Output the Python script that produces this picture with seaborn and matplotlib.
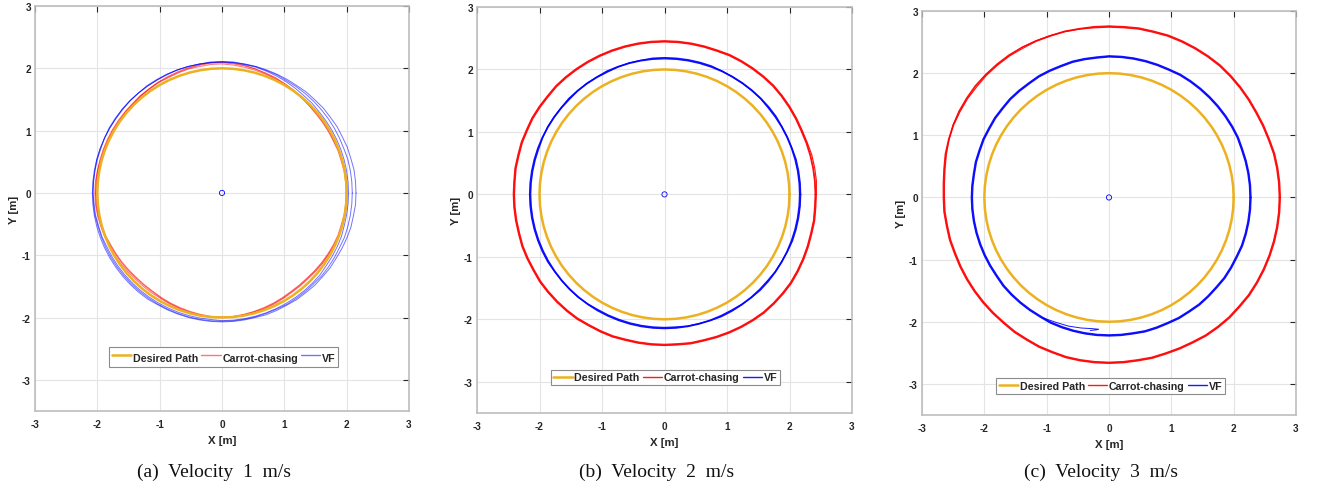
import numpy as np
import pandas as pd
import matplotlib
matplotlib.use("Agg")
import matplotlib.pyplot as plt
import seaborn as sns

# ---------------- data ----------------
ANGLES_DEG = [0, 5, 10, 15, 20, 25, 30, 35, 40, 45, 50, 55,
              60, 65, 70, 75, 80, 85, 90, 95, 100, 105, 110, 115,
              120, 125, 130, 135, 140, 145, 150, 155, 160, 165, 170, 175,
              180, 185, 190, 195, 200, 205, 210, 215, 220, 225, 230, 235,
              240, 245, 250, 255, 260, 265, 270, 275, 280, 285, 290, 295,
              300, 305, 310, 315, 320, 325, 330, 335, 340, 345, 350, 355]
DESIRED_RADIUS = 2.0
CENTER_X = [0.0]
CENTER_Y = [0.0]

CAPTIONS = ["(a)  Velocity  1  m/s", "(b)  Velocity  2  m/s", "(c)  Velocity  3  m/s"]
LEGEND_LABELS = ["Desired Path", "Carrot-chasing", "VF"]
TICKS = [-3, -2, -1, 0, 1, 2, 3]

# radius of each recorded lap at ANGLES_DEG, read from the picture
# ---- panel (a): velocity 1 m/s ----
CC_V1_LAP1 = [2.00, 2.00, 2.00, 1.99, 1.99, 1.98, 1.98, 1.98, 1.98, 1.98, 1.99, 2.00,
              2.01, 2.02, 2.03, 2.04, 2.05, 2.06, 2.07, 2.07, 2.06, 2.06, 2.05, 2.04,
              2.04, 2.03, 2.03, 2.02, 2.02, 2.02, 2.02, 2.02, 2.02, 2.02, 2.03, 2.03,
              2.03, 2.03, 2.02, 2.01, 2.00, 1.98, 1.97, 1.96, 1.95, 1.94, 1.94, 1.94,
              1.95, 1.96, 1.97, 1.98, 1.99, 2.00, 2.00, 2.00, 1.99, 1.98, 1.97, 1.96,
              1.95, 1.94, 1.94, 1.94, 1.95, 1.96, 1.97, 1.98, 1.99, 1.99, 2.00, 2.00]
CC_V1_LAP2 = [2.01, 2.01, 2.01, 2.00, 2.00, 1.99, 1.99, 1.99, 1.99, 1.99, 2.00, 2.01,
              2.02, 2.03, 2.04, 2.06, 2.07, 2.08, 2.09, 2.09, 2.08, 2.07, 2.06, 2.05,
              2.05, 2.04, 2.04, 2.03, 2.03, 2.03, 2.03, 2.03, 2.03, 2.03, 2.03, 2.04,
              2.04, 2.04, 2.03, 2.02, 2.01, 1.99, 1.99, 1.98, 1.97, 1.96, 1.96, 1.96,
              1.96, 1.97, 1.98, 1.99, 1.99, 2.00, 2.00, 2.00, 1.99, 1.98, 1.98, 1.97,
              1.96, 1.95, 1.95, 1.95, 1.96, 1.97, 1.98, 1.99, 2.00, 2.00, 2.01, 2.01]
CC_V1_LAP3 = [1.99, 1.99, 1.99, 1.98, 1.98, 1.97, 1.97, 1.97, 1.97, 1.98, 1.99, 2.01,
              2.02, 2.04, 2.05, 2.06, 2.08, 2.09, 2.10, 2.10, 2.09, 2.08, 2.07, 2.06,
              2.05, 2.04, 2.03, 2.02, 2.02, 2.01, 2.01, 2.01, 2.01, 2.01, 2.02, 2.02,
              2.02, 2.02, 2.01, 2.00, 1.99, 1.97, 1.96, 1.95, 1.94, 1.93, 1.93, 1.93,
              1.94, 1.95, 1.96, 1.97, 1.98, 1.99, 1.99, 1.99, 1.98, 1.97, 1.96, 1.95,
              1.94, 1.93, 1.93, 1.93, 1.94, 1.95, 1.96, 1.97, 1.98, 1.98, 1.99, 1.99]
VF_V1_LAP1 = [2.03, 2.03, 2.03, 2.03, 2.03, 2.03, 2.03, 2.03, 2.03, 2.04, 2.04, 2.05,
              2.06, 2.07, 2.08, 2.09, 2.09, 2.10, 2.10, 2.10, 2.10, 2.10, 2.10, 2.09,
              2.09, 2.09, 2.09, 2.09, 2.08, 2.08, 2.08, 2.08, 2.07, 2.07, 2.07, 2.07,
              2.07, 2.06, 2.06, 2.05, 2.05, 2.04, 2.04, 2.04, 2.04, 2.04, 2.04, 2.04,
              2.04, 2.04, 2.04, 2.04, 2.04, 2.04, 2.05, 2.05, 2.05, 2.05, 2.05, 2.05,
              2.05, 2.05, 2.05, 2.05, 2.05, 2.04, 2.04, 2.04, 2.04, 2.03, 2.03, 2.03]
VF_V1_LAP2 = [2.09, 2.09, 2.09, 2.09, 2.08, 2.08, 2.08, 2.08, 2.08, 2.08, 2.08, 2.08,
              2.08, 2.09, 2.09, 2.10, 2.10, 2.10, 2.10, 2.10, 2.10, 2.10, 2.10, 2.10,
              2.09, 2.09, 2.09, 2.09, 2.09, 2.08, 2.08, 2.08, 2.08, 2.08, 2.07, 2.07,
              2.07, 2.07, 2.07, 2.06, 2.06, 2.06, 2.06, 2.06, 2.06, 2.06, 2.06, 2.06,
              2.06, 2.06, 2.06, 2.06, 2.06, 2.06, 2.06, 2.06, 2.06, 2.06, 2.06, 2.06,
              2.07, 2.07, 2.07, 2.07, 2.08, 2.08, 2.08, 2.08, 2.09, 2.09, 2.09, 2.09]
VF_V1_LAP3 = [2.15, 2.15, 2.15, 2.14, 2.14, 2.13, 2.13, 2.12, 2.12, 2.11, 2.11, 2.10,
              2.10, 2.10, 2.10, 2.10, 2.10, 2.11, 2.11, 2.11, 2.10, 2.10, 2.10, 2.10,
              2.10, 2.10, 2.09, 2.09, 2.09, 2.09, 2.09, 2.08, 2.08, 2.08, 2.08, 2.08,
              2.08, 2.08, 2.08, 2.08, 2.08, 2.08, 2.08, 2.08, 2.08, 2.08, 2.08, 2.08,
              2.07, 2.07, 2.07, 2.07, 2.07, 2.07, 2.07, 2.07, 2.07, 2.07, 2.08, 2.08,
              2.08, 2.09, 2.09, 2.10, 2.10, 2.11, 2.11, 2.12, 2.13, 2.14, 2.14, 2.15]

# ---- panel (b): velocity 2 m/s ----
CC_V2_LAP1 = [2.42, 2.42, 2.42, 2.42, 2.42, 2.42, 2.43, 2.44, 2.45, 2.46, 2.46, 2.46,
              2.46, 2.46, 2.45, 2.45, 2.45, 2.45, 2.45, 2.45, 2.45, 2.45, 2.45, 2.45,
              2.45, 2.45, 2.45, 2.45, 2.44, 2.44, 2.44, 2.43, 2.43, 2.42, 2.42, 2.41,
              2.41, 2.41, 2.41, 2.41, 2.42, 2.42, 2.42, 2.43, 2.43, 2.43, 2.43, 2.43,
              2.42, 2.42, 2.42, 2.41, 2.41, 2.41, 2.41, 2.41, 2.42, 2.42, 2.43, 2.44,
              2.45, 2.46, 2.47, 2.47, 2.47, 2.47, 2.46, 2.45, 2.44, 2.43, 2.43, 2.42]
CC_V2_LAP2 = [2.43, 2.44, 2.44, 2.44, 2.43, 2.43, 2.44, 2.45, 2.46, 2.47, 2.47, 2.47,
              2.47, 2.47, 2.46, 2.46, 2.46, 2.46, 2.46, 2.46, 2.46, 2.46, 2.46, 2.46,
              2.46, 2.46, 2.46, 2.46, 2.45, 2.45, 2.45, 2.44, 2.44, 2.43, 2.43, 2.42,
              2.42, 2.42, 2.42, 2.42, 2.43, 2.43, 2.43, 2.44, 2.44, 2.44, 2.44, 2.44,
              2.43, 2.43, 2.43, 2.42, 2.42, 2.42, 2.42, 2.42, 2.43, 2.43, 2.44, 2.45,
              2.46, 2.47, 2.48, 2.48, 2.48, 2.48, 2.47, 2.46, 2.45, 2.44, 2.44, 2.43]
CC_V2_LAP3 = [2.41, 2.41, 2.41, 2.41, 2.41, 2.41, 2.42, 2.43, 2.44, 2.45, 2.45, 2.45,
              2.45, 2.45, 2.44, 2.44, 2.44, 2.44, 2.44, 2.44, 2.44, 2.44, 2.44, 2.44,
              2.44, 2.44, 2.44, 2.44, 2.43, 2.43, 2.43, 2.42, 2.42, 2.41, 2.41, 2.40,
              2.40, 2.40, 2.40, 2.40, 2.41, 2.41, 2.41, 2.42, 2.42, 2.42, 2.42, 2.42,
              2.41, 2.41, 2.41, 2.40, 2.40, 2.40, 2.40, 2.40, 2.41, 2.41, 2.42, 2.43,
              2.44, 2.45, 2.46, 2.46, 2.46, 2.46, 2.45, 2.44, 2.43, 2.42, 2.42, 2.41]
VF_V2_LAP1 = [2.17, 2.17, 2.17, 2.17, 2.17, 2.17, 2.17, 2.17, 2.17, 2.17, 2.17, 2.17,
              2.17, 2.18, 2.18, 2.18, 2.18, 2.18, 2.18, 2.18, 2.18, 2.18, 2.17, 2.17,
              2.17, 2.17, 2.16, 2.16, 2.16, 2.16, 2.16, 2.15, 2.15, 2.15, 2.15, 2.15,
              2.15, 2.15, 2.15, 2.15, 2.15, 2.15, 2.15, 2.15, 2.15, 2.15, 2.15, 2.14,
              2.14, 2.14, 2.14, 2.14, 2.14, 2.14, 2.14, 2.14, 2.14, 2.14, 2.15, 2.15,
              2.15, 2.15, 2.16, 2.16, 2.16, 2.16, 2.16, 2.17, 2.17, 2.17, 2.17, 2.17]
VF_V2_LAP2 = [2.18, 2.18, 2.18, 2.18, 2.17, 2.17, 2.17, 2.18, 2.18, 2.18, 2.18, 2.18,
              2.18, 2.18, 2.19, 2.19, 2.19, 2.19, 2.19, 2.19, 2.18, 2.18, 2.18, 2.18,
              2.17, 2.17, 2.17, 2.17, 2.16, 2.16, 2.16, 2.16, 2.16, 2.16, 2.16, 2.16,
              2.16, 2.16, 2.16, 2.16, 2.16, 2.16, 2.16, 2.15, 2.15, 2.15, 2.15, 2.15,
              2.15, 2.15, 2.15, 2.15, 2.15, 2.15, 2.15, 2.15, 2.15, 2.15, 2.15, 2.16,
              2.16, 2.16, 2.16, 2.17, 2.17, 2.17, 2.17, 2.17, 2.18, 2.18, 2.18, 2.18]
VF_V2_LAP3 = [2.16, 2.16, 2.16, 2.16, 2.16, 2.16, 2.16, 2.16, 2.16, 2.17, 2.17, 2.17,
              2.17, 2.17, 2.17, 2.17, 2.17, 2.17, 2.17, 2.17, 2.17, 2.17, 2.17, 2.16,
              2.16, 2.16, 2.16, 2.15, 2.15, 2.15, 2.15, 2.15, 2.14, 2.14, 2.14, 2.14,
              2.14, 2.14, 2.14, 2.14, 2.14, 2.14, 2.14, 2.14, 2.14, 2.14, 2.14, 2.14,
              2.13, 2.13, 2.13, 2.13, 2.13, 2.13, 2.13, 2.13, 2.14, 2.14, 2.14, 2.14,
              2.14, 2.15, 2.15, 2.15, 2.15, 2.16, 2.16, 2.16, 2.16, 2.16, 2.16, 2.16]

# ---- panel (c): velocity 3 m/s ----
CC_V3_LAP1 = [2.74, 2.74, 2.74, 2.74, 2.73, 2.73, 2.73, 2.74, 2.75, 2.76, 2.77, 2.77,
              2.77, 2.77, 2.77, 2.76, 2.76, 2.75, 2.75, 2.75, 2.75, 2.76, 2.76, 2.77,
              2.77, 2.78, 2.78, 2.78, 2.77, 2.77, 2.76, 2.75, 2.73, 2.71, 2.68, 2.66,
              2.65, 2.65, 2.64, 2.64, 2.63, 2.63, 2.63, 2.63, 2.63, 2.63, 2.63, 2.64,
              2.64, 2.65, 2.65, 2.66, 2.66, 2.66, 2.66, 2.66, 2.66, 2.67, 2.67, 2.68,
              2.69, 2.71, 2.72, 2.73, 2.73, 2.74, 2.74, 2.74, 2.74, 2.74, 2.74, 2.74]
CC_V3_LAP2 = [2.75, 2.75, 2.75, 2.75, 2.74, 2.74, 2.74, 2.75, 2.76, 2.77, 2.78, 2.78,
              2.78, 2.78, 2.78, 2.77, 2.77, 2.76, 2.76, 2.76, 2.76, 2.77, 2.77, 2.78,
              2.79, 2.79, 2.79, 2.79, 2.79, 2.78, 2.77, 2.76, 2.74, 2.72, 2.69, 2.67,
              2.66, 2.66, 2.65, 2.65, 2.64, 2.64, 2.64, 2.64, 2.64, 2.64, 2.64, 2.65,
              2.65, 2.66, 2.66, 2.67, 2.67, 2.67, 2.67, 2.67, 2.67, 2.68, 2.68, 2.69,
              2.70, 2.72, 2.73, 2.74, 2.74, 2.75, 2.75, 2.75, 2.75, 2.75, 2.75, 2.75]
CC_V3_LAP3 = [2.73, 2.73, 2.73, 2.73, 2.72, 2.72, 2.72, 2.73, 2.74, 2.75, 2.76, 2.76,
              2.76, 2.76, 2.76, 2.75, 2.75, 2.74, 2.74, 2.74, 2.75, 2.76, 2.77, 2.78,
              2.79, 2.80, 2.80, 2.80, 2.80, 2.79, 2.78, 2.76, 2.73, 2.70, 2.67, 2.65,
              2.64, 2.64, 2.63, 2.63, 2.62, 2.62, 2.62, 2.62, 2.62, 2.62, 2.62, 2.63,
              2.63, 2.64, 2.64, 2.65, 2.65, 2.65, 2.65, 2.65, 2.65, 2.66, 2.66, 2.67,
              2.68, 2.70, 2.71, 2.72, 2.72, 2.73, 2.73, 2.73, 2.73, 2.73, 2.73, 2.73]
VF_V3_LAP1 = [2.27, 2.27, 2.27, 2.27, 2.27, 2.28, 2.28, 2.28, 2.28, 2.28, 2.28, 2.28,
              2.28, 2.27, 2.27, 2.27, 2.27, 2.27, 2.27, 2.26, 2.26, 2.26, 2.25, 2.25,
              2.25, 2.24, 2.24, 2.24, 2.23, 2.23, 2.22, 2.22, 2.21, 2.21, 2.20, 2.20,
              2.20, 2.20, 2.20, 2.20, 2.20, 2.20, 2.20, 2.20, 2.21, 2.21, 2.21, 2.21,
              2.21, 2.22, 2.22, 2.22, 2.22, 2.22, 2.22, 2.22, 2.22, 2.23, 2.23, 2.23,
              2.24, 2.24, 2.25, 2.25, 2.25, 2.26, 2.26, 2.26, 2.27, 2.27, 2.27, 2.27]
VF_V3_LAP2 = [2.28, 2.28, 2.28, 2.28, 2.28, 2.29, 2.29, 2.29, 2.29, 2.29, 2.29, 2.29,
              2.29, 2.28, 2.28, 2.28, 2.28, 2.28, 2.28, 2.27, 2.27, 2.27, 2.26, 2.26,
              2.26, 2.25, 2.25, 2.25, 2.24, 2.24, 2.23, 2.23, 2.22, 2.22, 2.21, 2.21,
              2.21, 2.21, 2.21, 2.21, 2.21, 2.21, 2.21, 2.21, 2.22, 2.22, 2.22, 2.22,
              2.22, 2.23, 2.23, 2.23, 2.23, 2.23, 2.23, 2.23, 2.23, 2.24, 2.24, 2.24,
              2.25, 2.25, 2.26, 2.26, 2.26, 2.27, 2.27, 2.27, 2.28, 2.28, 2.28, 2.28]
VF_V3_LAP3 = [2.26, 2.26, 2.26, 2.26, 2.26, 2.27, 2.27, 2.27, 2.27, 2.27, 2.27, 2.27,
              2.27, 2.26, 2.26, 2.26, 2.26, 2.26, 2.26, 2.25, 2.25, 2.25, 2.24, 2.24,
              2.24, 2.23, 2.23, 2.23, 2.22, 2.22, 2.21, 2.21, 2.20, 2.20, 2.19, 2.19,
              2.19, 2.19, 2.19, 2.19, 2.19, 2.19, 2.19, 2.19, 2.20, 2.20, 2.20, 2.20,
              2.20, 2.21, 2.21, 2.21, 2.21, 2.21, 2.21, 2.21, 2.21, 2.22, 2.22, 2.22,
              2.23, 2.23, 2.24, 2.24, 2.24, 2.25, 2.25, 2.25, 2.26, 2.26, 2.26, 2.26]
VF_V3_TAIL_X = [-1.05, -0.85, -0.65, -0.45, -0.28, -0.17, -0.20, -0.30]
VF_V3_TAIL_Y = [-1.94, -2.01, -2.07, -2.10, -2.11, -2.12, -2.13, -2.14]

PANELS = [
    {"cc": [CC_V1_LAP1, CC_V1_LAP2, CC_V1_LAP3], "vf": [VF_V1_LAP1, VF_V1_LAP2, VF_V1_LAP3], "tail": None},
    {"cc": [CC_V2_LAP1, CC_V2_LAP2, CC_V2_LAP3], "vf": [VF_V2_LAP1, VF_V2_LAP2, VF_V2_LAP3], "tail": None},
    {"cc": [CC_V3_LAP1, CC_V3_LAP2, CC_V3_LAP3], "vf": [VF_V3_LAP1, VF_V3_LAP2, VF_V3_LAP3],
     "tail": (VF_V3_TAIL_X, VF_V3_TAIL_Y)},
]

# ---------------- styling ----------------
DESIRED_COLOR = "#EDB120"
CC_COLOR = "#FF0000"
VF_COLOR = "#0000FF"
SPINE_COLOR = "#BDBDBD"
TEXT_COLOR = "#262626"

sns.set_style("white")
plt.rcParams["font.family"] = ["Liberation Sans", "DejaVu Sans"]

W, H = 1317, 489
fig = plt.figure(figsize=(W / 100, H / 100), dpi=100)

# axes boxes in pixels: left, top, right, bottom
BOXES = [(35, 7, 409, 412), (477, 8, 852, 414), (922, 12, 1296, 416)]
CAPTION_POS = [(214, 472), (657, 472), (1101, 472)]
LEGEND_POS = [(0.505, 0.133), (0.502, 0.088), (0.504, 0.072)]
LEGEND_HANDLEHEIGHT = [1.8, 0.7, 0.7]
TRACE_ALPHA = [0.55, 0.9, 0.9]
TRACE_LW = [0.7, 0.85, 0.85]


def lap_frame(laps):
    ang = np.deg2rad(np.array(ANGLES_DEG + [ANGLES_DEG[0]], dtype=float))
    rows = []
    for k, radii in enumerate(laps):
        r = np.array(list(radii) + [radii[0]], dtype=float)
        rows.append(pd.DataFrame({"x": r * np.cos(ang), "y": r * np.sin(ang), "lap": k}))
    return pd.concat(rows, ignore_index=True)


desired_df = lap_frame([[DESIRED_RADIUS] * len(ANGLES_DEG)])

for i, (panel, box) in enumerate(zip(PANELS, BOXES)):
    l, t, r, b = box
    ax = fig.add_axes([l / W, (H - b) / H, (r - l) / W, (b - t) / H])
    ax.set_xlim(-3, 3)
    ax.set_ylim(-3.5, 3)
    ax.grid(True, color="#E4E4E4", lw=0.8)
    ax.set_axisbelow(True)

    n0 = len(ax.lines)
    sns.lineplot(data=lap_frame(panel["cc"]), x="x", y="y", units="lap", estimator=None, sort=False,
                 color=CC_COLOR, lw=TRACE_LW[i], alpha=TRACE_ALPHA[i], ax=ax, legend=False)
    cc_line = ax.lines[n0]
    n1 = len(ax.lines)
    sns.lineplot(data=lap_frame(panel["vf"]), x="x", y="y", units="lap", estimator=None, sort=False,
                 color=VF_COLOR, lw=TRACE_LW[i], alpha=TRACE_ALPHA[i], ax=ax, legend=False)
    vf_line = ax.lines[n1]
    if panel["tail"] is not None:
        tx, ty = panel["tail"]
        sns.lineplot(x=tx, y=ty, sort=False, estimator=None, color=VF_COLOR, lw=0.7,
                     alpha=TRACE_ALPHA[i], ax=ax, legend=False)
    n2 = len(ax.lines)
    sns.lineplot(data=desired_df, x="x", y="y", units="lap", estimator=None, sort=False,
                 color=DESIRED_COLOR, lw=1.8, ax=ax, legend=False)
    des_line = ax.lines[n2]
    sns.scatterplot(x=CENTER_X, y=CENTER_Y, marker="o", s=14, facecolors="none",
                    edgecolors=VF_COLOR, linewidths=0.6, ax=ax, legend=False, zorder=5)

    ax.set_xticks(TICKS)
    ax.set_yticks(TICKS)
    ax.set_xticklabels([str(v) for v in TICKS], fontweight="bold", fontsize=7.2, color=TEXT_COLOR)
    ax.set_yticklabels([str(v) for v in TICKS], fontweight="bold", fontsize=7.2, color=TEXT_COLOR)
    ax.tick_params(direction="in", length=4, width=0.8, color=TEXT_COLOR, top=True, right=True)
    ax.tick_params(axis="x", pad=6)
    ax.tick_params(axis="y", pad=3)
    for s in ax.spines.values():
        s.set_color(SPINE_COLOR)
        s.set_linewidth(1.2)
    ax.set_xlabel("X [m]", fontweight="bold", fontsize=8.2, color=TEXT_COLOR, labelpad=4)
    ax.set_ylabel("Y [m]", fontweight="bold", fontsize=8.2, color=TEXT_COLOR, labelpad=2)

    leg = ax.legend([des_line, cc_line, vf_line], LEGEND_LABELS, ncol=3, loc="center",
                    bbox_to_anchor=LEGEND_POS[i],
                    prop={"weight": "bold", "size": 7.7}, frameon=True, fancybox=False,
                    framealpha=1, edgecolor="#8C8C8C", handlelength=1.8, handletextpad=0.15,
                    handleheight=LEGEND_HANDLEHEIGHT[i],
                    columnspacing=0.3, borderpad=0.25, borderaxespad=0)
    leg.get_frame().set_linewidth(0.8)
    for txt in leg.get_texts():
        txt.set_color(TEXT_COLOR)
    leg_lines = leg.get_lines()
    leg_lines[0].set_linewidth(1.8)
    leg_lines[1].set_linewidth(1.0)
    leg_lines[2].set_linewidth(1.0)

    cx, cy = CAPTION_POS[i]
    fig.text(cx / W, 1 - cy / H, CAPTIONS[i], ha="center", va="center",
             family=["Liberation Serif", "DejaVu Serif"], fontsize=14, color="#111111")

fig.savefig("out.png", dpi=100)
